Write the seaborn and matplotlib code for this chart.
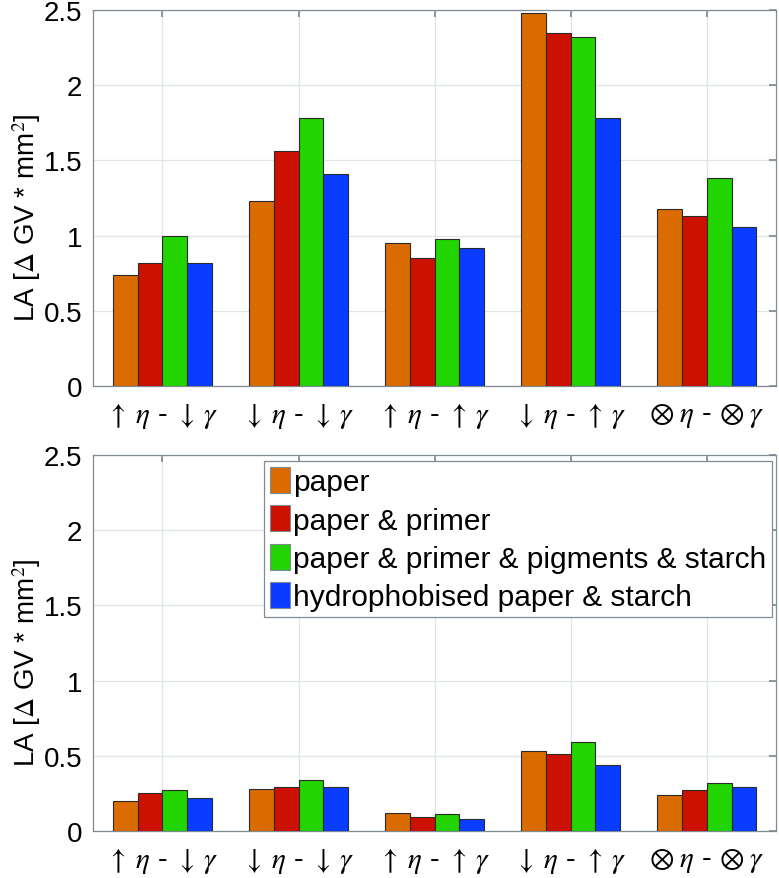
import numpy as np
import pandas as pd
import matplotlib
matplotlib.use("Agg")
import matplotlib.pyplot as plt
import seaborn as sns

conditions = [r"$\uparrow\;\eta$ - $\downarrow\;\gamma$",
              r"$\downarrow\;\eta$ - $\downarrow\;\gamma$",
              r"$\uparrow\;\eta$ - $\uparrow\;\gamma$",
              r"$\downarrow\;\eta$ - $\uparrow\;\gamma$",
              r"$\otimes\;\eta$ - $\otimes\;\gamma$"]
samples = ["paper", "paper & primer", "paper & primer & pigments & starch",
           "hydrophobised paper & starch"]
colors = ["#D96B00", "#CC1100", "#22D400", "#0A3CFF"]

# top panel values (one list per sample, across conditions)
top_paper = [0.74, 1.23, 0.95, 2.48, 1.18]
top_primer = [0.82, 1.56, 0.85, 2.35, 1.13]
top_pigments = [1.00, 1.78, 0.98, 2.32, 1.38]
top_hydro = [0.82, 1.41, 0.92, 1.78, 1.06]

# bottom panel values
bot_paper = [0.20, 0.28, 0.12, 0.53, 0.24]
bot_primer = [0.25, 0.29, 0.09, 0.51, 0.27]
bot_pigments = [0.27, 0.34, 0.11, 0.59, 0.32]
bot_hydro = [0.22, 0.29, 0.08, 0.44, 0.29]

yticks = [0, 0.5, 1, 1.5, 2, 2.5]
ytick_labels = ["0", "0.5", "1", "1.5", "2", "2.5"]
ylabel = r"LA [$\Delta$ GV * mm$^{2}$]"


def make_df(series):
    rows = []
    for s, vals in zip(samples, series):
        for c, v in zip(conditions, vals):
            rows.append({"cond": c, "sample": s, "LA": v})
    return pd.DataFrame(rows)


sns.set_theme(style="white")
plt.rcParams["font.family"] = ["Liberation Sans", "DejaVu Sans"]
plt.rcParams["mathtext.fontset"] = "stix"
plt.rcParams["mathtext.default"] = "it"
for k in ["text.color", "axes.labelcolor", "xtick.labelcolor", "ytick.labelcolor"]:
    plt.rcParams[k] = "black"

axis_col = "#7f8b93"
grid_col = "#dfe5e8"

fig = plt.figure(figsize=(7.79, 8.79), dpi=100)
W, H = 779, 879
left, right = 93.3, 776
ax_top = fig.add_axes([left / W, 1 - 387 / H, (right - left) / W, (387 - 11) / H])
ax_bot = fig.add_axes([left / W, 1 - 832 / H, (right - left) / W, (832 - 456) / H])

for ax, series, show_leg in [(ax_top, [top_paper, top_primer, top_pigments, top_hydro], False),
                             (ax_bot, [bot_paper, bot_primer, bot_pigments, bot_hydro], True)]:
    df = make_df(series)
    sns.barplot(data=df, x="cond", y="LA", hue="sample", order=conditions,
                hue_order=samples, palette=colors, saturation=1, width=0.727, gap=0,
                edgecolor="#2a2a2a", linewidth=0.8, errorbar=None, ax=ax,
                legend=show_leg, zorder=3)
    ax.set_xlim(-0.508, 4.508)
    ax.set_ylim(0, 2.5)
    ax.set_yticks(yticks)
    ax.set_yticklabels(ytick_labels)
    ax.set_xlabel("")
    ax.set_ylabel(ylabel, fontsize=20, labelpad=0)
    ax.yaxis.set_label_coords(-0.074, 0.45)
    ax.tick_params(axis="both", which="both", direction="in", length=5,
                   color=axis_col, top=True, right=True, labelsize=20, pad=8)
    ax.tick_params(axis="x", labelsize=21, pad=11)
    ax.grid(True, color=grid_col, linewidth=0.9, zorder=0)
    ax.set_axisbelow(True)
    for sp in ax.spines.values():
        sp.set_color(axis_col)
        sp.set_linewidth(0.9)
        sp.set_visible(True)

leg = ax_bot.legend(loc="upper right", bbox_to_anchor=(0.994, 0.984),
                    borderaxespad=0, fontsize=21.5, handlelength=0.67,
                    handleheight=0.97, handletextpad=0.1, labelspacing=0.3,
                    borderpad=0.2, fancybox=False, framealpha=1,
                    edgecolor=axis_col, title=None)
leg.get_frame().set_linewidth(0.9)
for h in leg.legend_handles:
    h.set_edgecolor(axis_col)

fig.savefig("out.png", dpi=100)
